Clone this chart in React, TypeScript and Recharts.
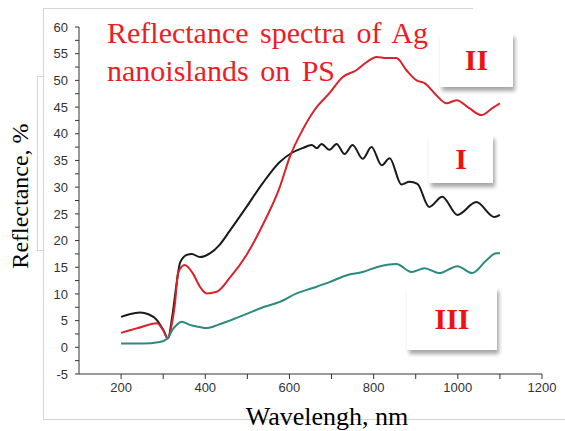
import React from 'react';
import { LineChart, Line, XAxis, YAxis } from 'recharts';

// wavelength (nm) / reflectance (%)
const waveI = [200, 220, 245, 265, 285, 300, 311, 322, 332, 340, 356, 368, 387, 411, 434, 458, 498, 537, 577, 605, 631, 653, 665, 676, 695, 712, 731, 750, 774, 795, 819, 838, 866, 885, 904, 932, 963, 999, 1044, 1087, 1100];
const reflI = [5.7, 6.2, 6.5, 6.2, 5.1, 3.3, 1.7, 6, 12, 15.8, 17.3, 17.5, 16.9, 17.6, 19.2, 21.8, 26.3, 30.8, 34.7, 36.4, 37.3, 37.9, 37.3, 38.1, 37.0, 38.1, 36.2, 37.9, 35.3, 37.5, 34.1, 35.4, 30.5, 31.0, 30.6, 26.3, 28.2, 24.8, 27.2, 24.4, 24.8];

const waveII = [200, 240, 285, 300, 311, 322, 328, 335, 344, 351, 370, 387, 403, 427, 458, 498, 537, 577, 600, 631, 660, 695, 726, 759, 783, 807, 830, 854, 878, 902, 921, 949, 973, 997, 1027, 1056, 1082, 1100];
const reflII = [2.7, 3.6, 4.5, 3.2, 1.7, 5, 8.2, 13.8, 15.1, 15.4, 13.9, 11.4, 10.1, 10.4, 13, 17.3, 23, 30, 35.5, 40.7, 44.5, 47.6, 50.6, 51.9, 53.4, 54.4, 54.2, 54.2, 51.9, 50, 49.5, 47.2, 45.7, 46.3, 44.8, 43.5, 44.8, 45.7];

const waveIII = [200, 250, 292, 311, 322, 332, 344, 363, 387, 403, 430, 458, 500, 537, 577, 617, 655, 695, 736, 774, 807, 854, 890, 921, 956, 999, 1034, 1068, 1091, 1100];
const reflIII = [0.7, 0.7, 1.0, 1.7, 3.3, 4.2, 4.8, 4.2, 3.8, 3.6, 4.2, 5.0, 6.3, 7.5, 8.5, 10.1, 11.1, 12.2, 13.5, 14.1, 15.0, 15.6, 14.1, 14.8, 13.9, 15.2, 13.9, 16.3, 17.6, 17.6];

const xTicks = [200, 300, 400, 500, 600, 700, 800, 900, 1000, 1100, 1200];
const yTicks = [-5, -2.5, 0, 2.5, 5, 7.5, 10, 12.5, 15, 17.5, 20, 22.5, 25, 27.5, 30, 32.5, 35, 37.5, 40, 42.5, 45, 47.5, 50, 52.5, 55, 57.5, 60];

const toPoints = (xs: number[], ys: number[]) => xs.map((x, i) => ({ x, y: ys[i] }));

const series = [
  { name: 'I', data: toPoints(waveI, reflI), color: '#1a1a1a' },
  { name: 'II', data: toPoints(waveII, reflII), color: '#d8232a' },
  { name: 'III', data: toPoints(waveIII, reflIII), color: '#2a8a82' },
];

const tickFont = { fontFamily: '"Liberation Sans", Arial, sans-serif', fontSize: 13, fill: '#333' };

const XTick = ({ x, y, payload }: any) =>
  payload.value % 200 === 0 ? (
    <text x={x} y={y} dy="0.71em" textAnchor="middle" {...tickFont}>{payload.value}</text>
  ) : <g />;

const YTick = ({ x, y, payload }: any) =>
  payload.value % 5 === 0 ? (
    <text x={x} y={y} dy="0.36em" textAnchor="end" {...tickFont}>{payload.value}</text>
  ) : <g />;

const serif = '"Liberation Serif", "Times New Roman", serif';

const LegendBox = ({ label, left, top, width, height }: any) => (
  <div style={{
    position: 'absolute', left, top, width, height, background: '#fff',
    boxShadow: '2px 4px 4px rgba(0,0,0,0.35)',
    display: 'flex', alignItems: 'center', justifyContent: 'center',
    fontFamily: serif, fontWeight: 'bold', fontSize: 30, color: '#ee1111',
  }}>{label}</div>
);

const frameLine = { position: 'absolute' as const, background: '#d4d4d4' };

export default function App() {
  return (
    <div style={{ position: 'absolute', left: 0, top: 0, width: 565, height: 431, background: '#fff', overflow: 'hidden' }}>
      {/* faint frame of the original screenshot */}
      <div style={{ ...frameLine, left: 43, top: 8, width: 430, height: 1 }} />
      <div style={{ ...frameLine, left: 43, top: 8, width: 1, height: 411 }} />
      <div style={{ ...frameLine, left: 43, top: 419, width: 522, height: 1 }} />
      <div style={{ ...frameLine, left: 37, top: 76, width: 1, height: 174 }} />
      <div style={{ ...frameLine, left: 37, top: 76, width: 6, height: 1 }} />
      <div style={{ ...frameLine, left: 37, top: 250, width: 6, height: 1 }} />

      <div style={{ position: 'absolute', left: 0, top: 0 }}>
        <LineChart width={565} height={431} margin={{ top: 27, right: 23, bottom: 27, left: 39 }}>
          <XAxis
            dataKey="x"
            type="number"
            domain={[100, 1200]}
            ticks={xTicks}
            allowDuplicatedCategory={false}
            height={30}
            tickSize={5}
            tickMargin={4}
            stroke="#333"
            tick={<XTick />}
          />
          <YAxis
            type="number"
            domain={[-5, 60]}
            ticks={yTicks}
            width={40}
            tickSize={4}
            tickMargin={7}
            stroke="#333"
            tick={<YTick />}
            interval={0}
          />
          {series.map((s) => (
            <Line
              key={s.name}
              data={s.data}
              dataKey="y"
              type="monotone"
              stroke={s.color}
              strokeWidth={2}
              dot={false}
              isAnimationActive={false}
            />
          ))}
        </LineChart>
      </div>

      <div style={{ position: 'absolute', left: 107, top: 14, fontFamily: serif, fontSize: 30, lineHeight: '38px', color: '#ee1c25', wordSpacing: 4, whiteSpace: 'nowrap' }}>
        Reflectance spectra of Ag<br />nanoislands on PS
      </div>

      <div style={{ position: 'absolute', left: 20, top: 196, transform: 'translate(-50%, -50%) rotate(-90deg)', fontFamily: serif, fontSize: 24, color: '#000', whiteSpace: 'nowrap' }}>
        Reflectance, %
      </div>

      <div style={{ position: 'absolute', left: 327, top: 402, transform: 'translateX(-50%)', fontFamily: serif, fontSize: 26, lineHeight: '30px', color: '#000', whiteSpace: 'nowrap' }}>
        Wavelengh, nm
      </div>

      <LegendBox label="II" left={440} top={33} width={73} height={54} />
      <LegendBox label="I" left={429} top={135} width={64} height={48} />
      <LegendBox label="III" left={407} top={287} width={90} height={63} />
    </div>
  );
}
